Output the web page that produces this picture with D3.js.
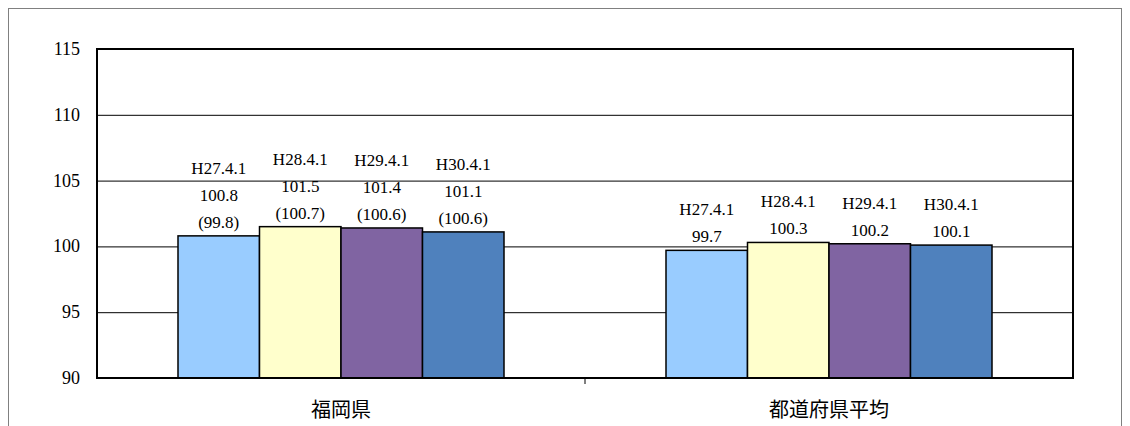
<!DOCTYPE html>
<html><head><meta charset="utf-8">
<script src="https://cdn.jsdelivr.net/npm/d3@7"></script>
<style>body{margin:0;background:#fff} .sf{font-family:"Liberation Serif","DejaVu Serif","Times New Roman",serif}</style>
</head><body>
<svg width="1130" height="426"></svg>
<script>
const categories = ["福岡県", "都道府県平均"];
const dates = ["H27.4.1", "H28.4.1", "H29.4.1", "H30.4.1"];
const fukuoka = [100.8, 101.5, 101.4, 101.1];
const fukuokaParen = ["(99.8)", "(100.7)", "(100.6)", "(100.6)"];
const average = [99.7, 100.3, 100.2, 100.1];
const colors = ["#99CCFF", "#FFFFCC", "#8064A2", "#4F81BD"];
const yTicks = [90, 95, 100, 105, 110, 115];

const svg = d3.select("svg");
const plotL = 97, plotR = 1073, plotT = 49, plotB = 378;

// outer frame
svg.append("rect").attr("x", 8.5).attr("y", 8.5).attr("width", 1113).attr("height", 430)
  .attr("fill", "none").attr("stroke", "#808080");

const x = d3.scaleBand().domain(categories).range([plotL, plotR]);
const xs = d3.scaleBand().domain(dates).range([0, 326]);
const y = d3.scaleLinear().domain([90, 115]).range([plotB, plotT]);

// gridlines
svg.selectAll("line.grid").data(yTicks.slice(1, -1)).enter().append("line")
  .attr("x1", plotL).attr("x2", plotR)
  .attr("y1", d => y(d) + 0.5).attr("y2", d => y(d) + 0.5)
  .attr("stroke", "#000").attr("stroke-width", 1);

// y labels
svg.selectAll("text.yl").data(yTicks).enter().append("text")
  .attr("class", "sf")
  .attr("x", 80).attr("y", d => y(d) + 6).attr("text-anchor", "end")
  .attr("font-size", 18).text(d => d);

const series = [fukuoka, average];
categories.forEach((c, ci) => {
  const g = svg.append("g").attr("transform", "translate(" + (x(c) + x.bandwidth() / 2 - 163) + ",0)");
  dates.forEach((d, i) => {
    const v = series[ci][i];
    g.append("rect").attr("x", xs(d)).attr("width", xs.bandwidth())
      .attr("y", y(v)).attr("height", y(90) - y(v))
      .attr("fill", colors[i]).attr("stroke", "#000").attr("stroke-width", 1.5);
    const lines = ci === 0 ? [d, v.toFixed(1), fukuokaParen[i]] : [d, v.toFixed(1)];
    lines.forEach((t, k) => {
      g.append("text").attr("class", "sf").attr("x", xs(d) + xs.bandwidth() / 2)
        .attr("y", y(v) - 8 - (lines.length - 1 - k) * 27)
        .attr("text-anchor", "middle").attr("font-size", 17).text(t);
    });
  });
  svg.append("text").attr("x", x(c) + x.bandwidth() / 2).attr("y", 417)
    .attr("text-anchor", "middle").attr("font-family", "'Noto Sans CJK JP',sans-serif")
    .attr("font-size", 20).text(c);
});

// axes frame
svg.append("rect").attr("x", plotL).attr("y", plotT).attr("width", plotR - plotL).attr("height", plotB - plotT)
  .attr("fill", "none").attr("stroke", "#000").attr("stroke-width", 2);
svg.append("line").attr("x1", x(categories[1])).attr("x2", x(categories[1]))
  .attr("y1", plotB).attr("y2", plotB + 6).attr("stroke", "#000");
</script>
</body></html>
